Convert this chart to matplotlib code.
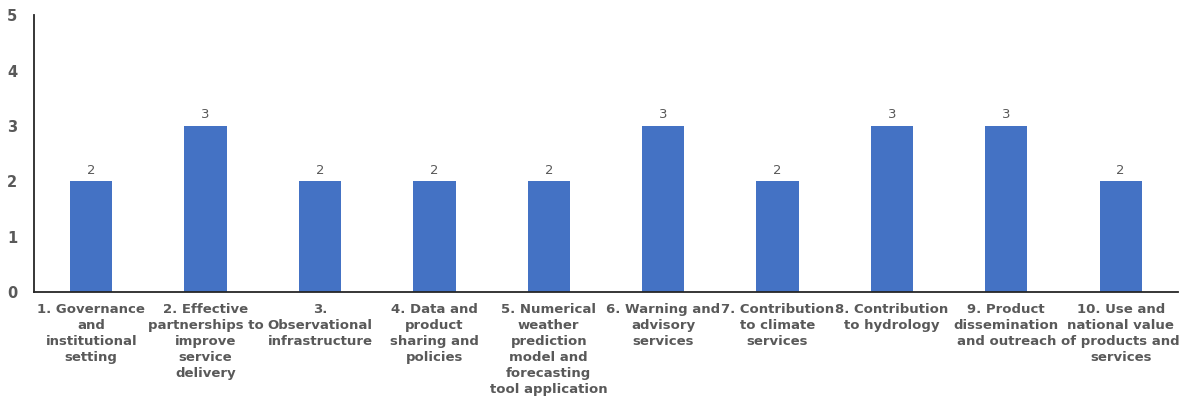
import matplotlib
matplotlib.use("Agg")
import matplotlib.pyplot as plt

categories = [
    "1. Governance\nand\ninstitutional\nsetting",
    "2. Effective\npartnerships to\nimprove\nservice\ndelivery",
    "3.\nObservational\ninfrastructure",
    "4. Data and\nproduct\nsharing and\npolicies",
    "5. Numerical\nweather\nprediction\nmodel and\nforecasting\ntool application",
    "6. Warning and\nadvisory\nservices",
    "7. Contribution\nto climate\nservices",
    "8. Contribution\nto hydrology",
    "9. Product\ndissemination\nand outreach",
    "10. Use and\nnational value\nof products and\nservices",
]
scores = [2, 3, 2, 2, 2, 3, 2, 3, 3, 2]

GRAY = "#595959"
BLUE = "#4472C4"

fig = plt.figure(figsize=(11.85, 3.98), dpi=100)
ax = fig.add_axes([0.0287, 0.266, 0.9653, 0.696])

x = list(range(len(categories)))
bars = ax.bar(x, scores, width=0.37, color=BLUE, zorder=2)
for xi, v in zip(x, scores):
    ax.text(xi, v + 0.08, str(v), ha="center", va="bottom",
            fontsize=9.5, color=GRAY)

ax.set_xlim(-0.5, len(categories) - 0.5)
ax.set_ylim(0, 5)
ax.set_yticks(range(6))
ax.set_yticklabels([str(i) for i in range(6)], fontsize=10.5,
                   fontweight="bold", color=GRAY)
ax.set_xticks(x)
ax.set_xticklabels(categories, fontsize=9.5, fontweight="bold", color=GRAY,
                   linespacing=1.3, va="top")
ax.tick_params(axis="both", length=0)
ax.tick_params(axis="x", pad=8)
ax.tick_params(axis="y", pad=12)
for side in ("top", "right"):
    ax.spines[side].set_visible(False)
for side in ("left", "bottom"):
    ax.spines[side].set_color("#262626")
    ax.spines[side].set_linewidth(1.3)

fig.savefig("out.png", dpi=100)
